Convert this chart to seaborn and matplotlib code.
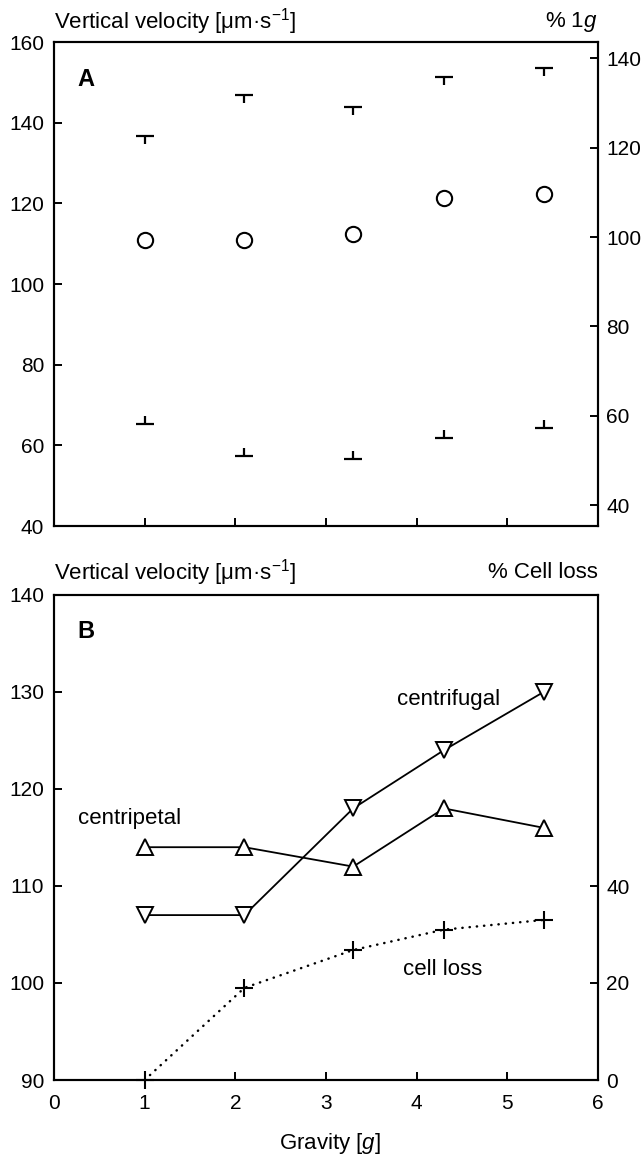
import numpy as np
import pandas as pd
import seaborn as sns
import matplotlib.pyplot as plt

# panel A: vertical velocity vs gravity (mean, upper and lower range)
gravity = [1.0, 2.1, 3.3, 4.3, 5.4]
vel_mean = [111.0, 111.0, 112.3, 121.3, 122.4]
vel_high = [136.7, 146.8, 144.0, 151.3, 153.5]
vel_low = [65.3, 57.4, 56.6, 61.7, 64.3]

# panel B: centripetal / centrifugal swimmers and cell loss
centripetal = [114.0, 114.0, 112.0, 118.0, 116.0]
centrifugal = [107.0, 107.0, 118.0, 124.0, 130.0]
cell_loss = [0.0, 19.0, 26.8, 31.0, 33.0]

sns.set_theme(style="ticks")
plt.rcParams["font.family"] = ["Liberation Sans", "DejaVu Sans"]
plt.rcParams["mathtext.fontset"] = "custom"
plt.rcParams["mathtext.rm"] = "Liberation Sans"
plt.rcParams["mathtext.it"] = "Liberation Sans:italic"
plt.rcParams["axes.linewidth"] = 1.5
plt.rcParams["axes.edgecolor"] = "black"
plt.rcParams["text.color"] = "black"
plt.rcParams["xtick.color"] = "black"
plt.rcParams["ytick.color"] = "black"

W, H = 642, 1157
fig = plt.figure(figsize=(W / 100, H / 100), dpi=100)

def frac(x0, y0, x1, y1):
    return [x0 / W, 1 - y1 / H, (x1 - x0) / W, (y1 - y0) / H]

ax1 = fig.add_axes(frac(54, 42, 598, 526))
ax2 = fig.add_axes(frac(54, 595, 598, 1080))

tick_kw = dict(direction="in", length=6, width=1.4, labelsize=15,
               colors="black")

# ---- panel A
sns.scatterplot(x=gravity, y=vel_mean, ax=ax1, marker="o", s=11 ** 2,
                facecolor="white", edgecolor="black", linewidth=1.5, zorder=3)
sns.scatterplot(x=gravity, y=vel_high, ax=ax1, marker="_", s=13 ** 2,
                color="black", linewidth=1.6)
sns.scatterplot(x=gravity, y=vel_high, ax=ax1, marker=3, s=6 ** 2,
                color="black", linewidth=1.6)
sns.scatterplot(x=gravity, y=vel_low, ax=ax1, marker="_", s=13 ** 2,
                color="black", linewidth=1.6)
sns.scatterplot(x=gravity, y=vel_low, ax=ax1, marker=2, s=6 ** 2,
                color="black", linewidth=1.6)

ax1.set_xlim(0, 6)
ax1.set_ylim(40, 160)
ax1.set_xticks([1, 2, 3, 4, 5])
ax1.set_yticks(range(40, 161, 20))
ax1.tick_params(axis="both", **tick_kw)
ax1.tick_params(axis="x", labelbottom=False)
ax1.tick_params(axis="y", pad=7)
ax1r = ax1.twinx()
ax1r.set_ylim(35.4, 143.6)
ax1r.set_yticks(range(40, 141, 20))
ax1r.tick_params(axis="y", pad=6, **tick_kw)

ax1.text(0.26, 150.6, "A", fontsize=17, fontweight="bold", va="center")

# ---- panel B
line_kw = dict(color="black", linewidth=1.3, markersize=11,
               markerfacecolor="white", markeredgecolor="black",
               markeredgewidth=1.4)
sns.lineplot(x=gravity, y=centripetal, ax=ax2, marker="^", **line_kw)
sns.lineplot(x=gravity, y=centrifugal, ax=ax2, marker="v", **line_kw)
ax2.set_xlim(0, 6)
ax2.set_ylim(90, 140)
ax2.set_xticks(range(0, 7))
ax2.set_yticks(range(90, 141, 10))
ax2.tick_params(axis="both", **tick_kw)
ax2.tick_params(axis="x", pad=10)
ax2.tick_params(axis="y", pad=7)

ax2r = ax2.twinx()
sns.lineplot(x=gravity, y=cell_loss, ax=ax2r, color="black", linewidth=1.8,
             linestyle=(0, (0.1, 2.8)), dash_capstyle="round", marker="+",
             markersize=13, markeredgewidth=1.5, markeredgecolor="black",
             clip_on=False, zorder=4)
ax2r.set_ylim(0, 100)
ax2r.set_yticks([0, 20, 40])
ax2r.tick_params(axis="y", pad=6, **tick_kw)

ax2.text(0.26, 136.2, "B", fontsize=17, fontweight="bold", va="center")
ax2.text(3.78, 129.2, "centrifugal", fontsize=16, va="center")
ax2.text(0.26, 117.0, "centripetal", fontsize=16, va="center")
ax2.text(3.85, 101.4, "cell loss", fontsize=16, va="center")

for ax in (ax1, ax2):
    for sp in ax.spines.values():
        sp.set_visible(True)
        sp.set_linewidth(1.5)

# header labels
hdr = "Vertical velocity [μm·s$^{\\mathregular{-1}}$]"
fig.text(54 / W, 1 - 22 / H, hdr, fontsize=16, ha="left", va="center")
fig.text(598 / W, 1 - 22 / H, "% 1$\\mathit{g}$", fontsize=16, ha="right", va="center")
fig.text(54 / W, 1 - 573 / H, hdr, fontsize=16, ha="left", va="center")
fig.text(598 / W, 1 - 573 / H, "% Cell loss", fontsize=16, ha="right", va="center")
fig.text(330 / W, 1 - 1143 / H, "Gravity [$\\mathit{g}$]", fontsize=16,
         ha="center", va="center")

fig.savefig("out.png", dpi=100)
